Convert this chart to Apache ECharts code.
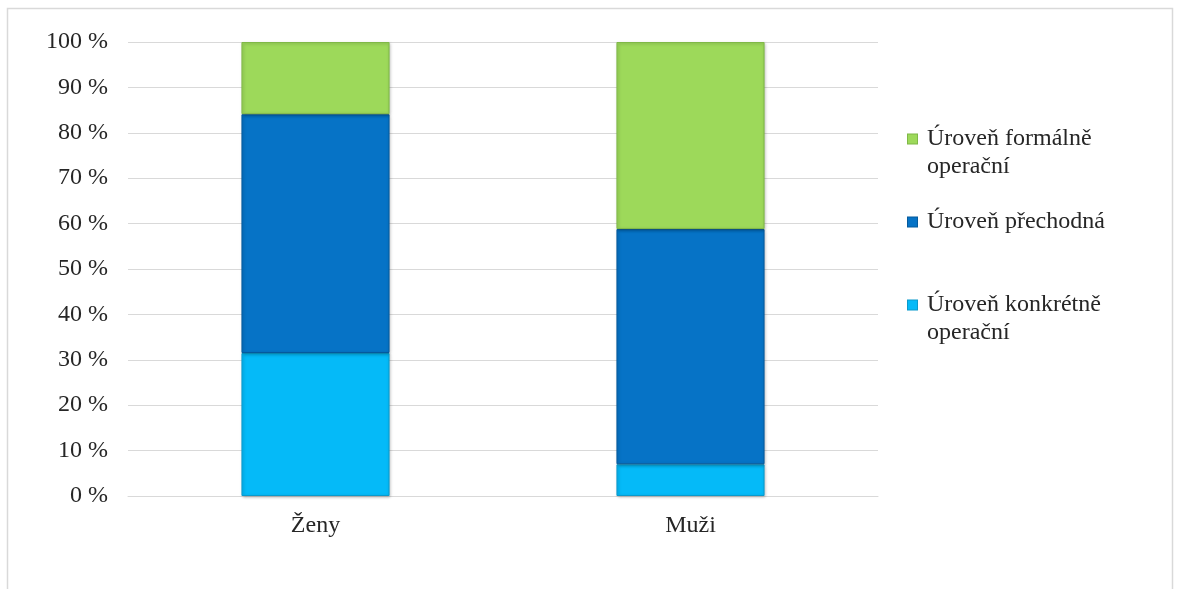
<!DOCTYPE html>
<html><head><meta charset="utf-8">
<script src="https://cdn.jsdelivr.net/npm/echarts@6/dist/echarts.min.js"></script>
<style>html,body{margin:0;padding:0;background:#fff}#c{width:1179px;height:589px}</style>
</head><body><div id="c"></div>
<script>
const categories = ['Ženy', 'Muži'];
const konkretne = [31.5, 7.0];
const prechodna = [52.6, 51.8];
const formalne = [15.9, 41.2];
const seriesNames = ['Úroveň konkrétně operační', 'Úroveň přechodná', 'Úroveň formálně operační'];
const colors = ['#05BAF8', '#0673C6', '#9DD95A'];
const borders = ['#0A9ACC', '#055A9C', '#7FB847'];
const yTicks = [0,10,20,30,40,50,60,70,80,90,100];

const font = '"Liberation Serif", "Times New Roman", serif';
const FS = 24;
const chart = echarts.init(document.getElementById('c'));
const values = [konkretne, prechodna, formalne];
const legendText = {};
legendText[seriesNames[2]] = '{m2|}{t|Úroveň formálně}\n{i|operační}';
legendText[seriesNames[1]] = '{m1|}{t|Úroveň přechodná}\n{i| }';
legendText[seriesNames[0]] = '{m0|}{t|Úroveň konkrétně}\n{i|operační}';
const mk = (c, b) => ({width: 9, height: 9, backgroundColor: c, borderColor: b, borderWidth: 1, verticalAlign: 'middle'});
chart.setOption({
  animation: false,
  graphic: [{type: 'rect', shape: {x: 7.5, y: 8.5, width: 1165, height: 600}, style: {fill: 'none', stroke: '#d9d9d9', lineWidth: 1.5}, silent: true}],
  grid: {left: 128, right: 301, top: 42, bottom: 93},
  legend: {
    orient: 'vertical', left: 897, top: 120, itemWidth: 0, itemHeight: 0, itemGap: 27, icon: 'rect',
    data: [seriesNames[2], seriesNames[1], seriesNames[0]],
    formatter: n => legendText[n],
    textStyle: {
      fontFamily: font, fontSize: FS, color: '#262626', lineHeight: 28,
      rich: {
        m0: mk(colors[0], borders[0]), m1: mk(colors[1], borders[1]), m2: mk(colors[2], borders[2]),
        t: {fontFamily: font, fontSize: FS, color: '#262626', lineHeight: 28, padding: [0, 0, 0, 10]},
        i: {fontFamily: font, fontSize: FS, color: '#262626', lineHeight: 28, padding: [0, 0, 0, 19]}
      }
    }
  },
  xAxis: {
    type: 'category', data: categories,
    axisLine: {lineStyle: {color: '#d9d9d9', width: 1}},
    axisTick: {show: false},
    axisLabel: {fontFamily: font, fontSize: FS, color: '#262626', margin: 18}
  },
  yAxis: {
    type: 'value', min: 0, max: 100, interval: 10,
    axisLine: {show: false}, axisTick: {show: false},
    splitLine: {lineStyle: {color: '#d9d9d9', width: 1}},
    axisLabel: {fontFamily: font, fontSize: FS, color: '#262626', margin: 20, padding: [4, 0, 0, 0],
      formatter: v => yTicks.includes(v) ? v + ' %' : ''}
  },
  series: seriesNames.map((name, i) => ({
    name, type: 'bar', stack: 'total', barWidth: '39.5%',
    data: values[i],
    itemStyle: {color: colors[i], borderColor: borders[i], borderWidth: 1, shadowColor: 'rgba(0,0,0,0.25)', shadowBlur: 3, shadowOffsetX: 1, shadowOffsetY: 1}
  }))
});
</script></body></html>
